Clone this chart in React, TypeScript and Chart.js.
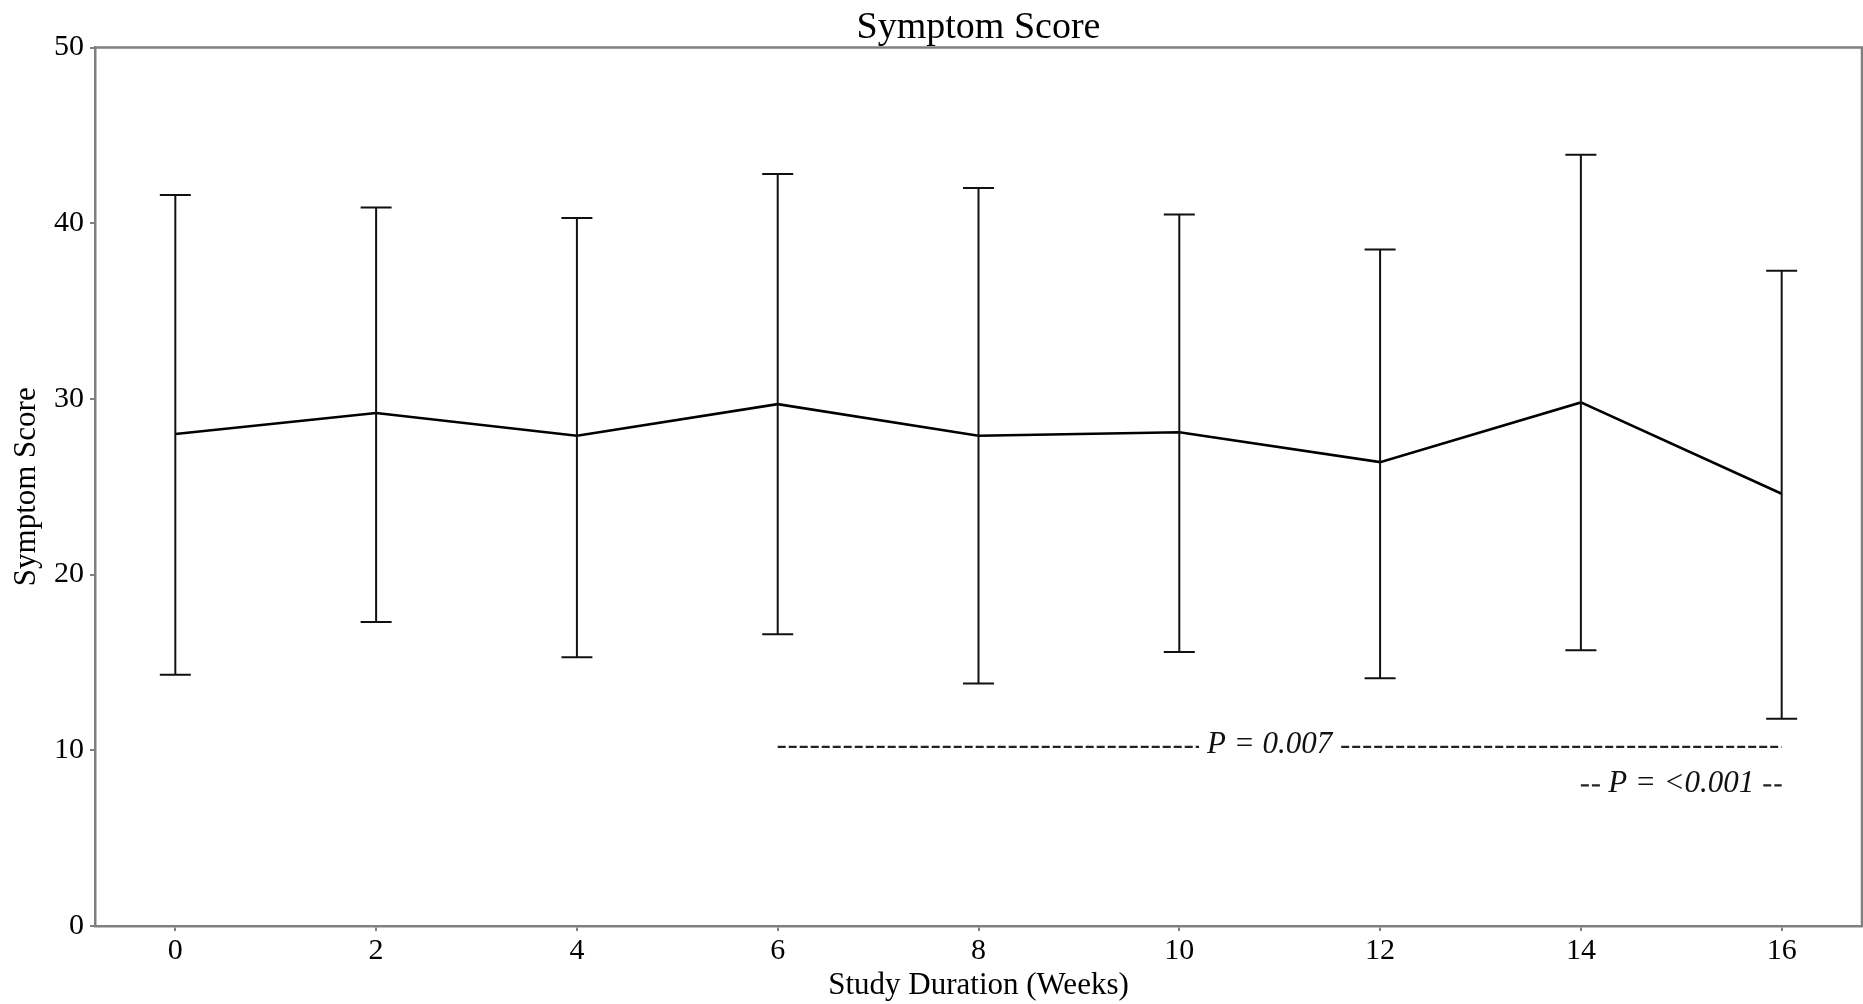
import React, { useEffect, useRef } from "react";
import { Chart, registerables } from "chart.js";

Chart.register(...registerables);

// ---- Data ----
const weeks = [0, 2, 4, 6, 8, 10, 12, 14, 16];
const meanScore = [28.0, 29.2, 27.9, 29.7, 27.9, 28.1, 26.4, 29.8, 24.6];
const upperScore = [41.6, 40.9, 40.3, 42.8, 42.0, 40.5, 38.5, 43.9, 37.3];
const lowerScore = [14.3, 17.3, 15.3, 16.6, 13.8, 15.6, 14.1, 15.7, 11.8];

const xTicks = [0, 2, 4, 6, 8, 10, 12, 14, 16];
const yTicks = [0, 10, 20, 30, 40, 50];

const chartTitle = "Symptom Score";

// P-value annotations
const pLabels = ["P = 0.007", "P = <0.001"];
const pLineFrom = [6, 14.0];
const pLineTo = [16, 16.0];
const pLineY = [10.2, 8.0];
const pTextX = [10.9, 15.0];

const FONT = "'Liberation Serif', 'Times New Roman', serif";
const SPINE = "#808080";

const errorBarPlugin = {
  id: "errorBars",
  afterDatasetsDraw(chart: any) {
    const { ctx, scales } = chart;
    const xs = scales.x;
    const ys = scales.y;
    ctx.save();
    ctx.strokeStyle = "#111";
    ctx.lineWidth = 2;
    const cap = 15.5;
    weeks.forEach((w, i) => {
      const x = xs.getPixelForValue(w);
      const yHi = ys.getPixelForValue(upperScore[i]);
      const yLo = ys.getPixelForValue(lowerScore[i]);
      ctx.beginPath();
      ctx.moveTo(x, yHi);
      ctx.lineTo(x, yLo);
      ctx.moveTo(x - cap, yHi);
      ctx.lineTo(x + cap, yHi);
      ctx.moveTo(x - cap, yLo);
      ctx.lineTo(x + cap, yLo);
      ctx.stroke();
    });
    ctx.restore();
  },
};

const framePlugin = {
  id: "frame",
  afterDraw(chart: any) {
    const { ctx, chartArea } = chart;
    ctx.save();
    ctx.strokeStyle = SPINE;
    ctx.lineWidth = 2.5;
    ctx.beginPath();
    ctx.moveTo(chartArea.left, chartArea.top);
    ctx.lineTo(chartArea.right, chartArea.top);
    ctx.lineTo(chartArea.right, chartArea.bottom);
    ctx.stroke();
    // title centred over the plot area
    ctx.fillStyle = "#000";
    ctx.font = `38px ${FONT}`;
    ctx.textAlign = "center";
    ctx.textBaseline = "alphabetic";
    ctx.fillText(chartTitle, (chartArea.left + chartArea.right) / 2, 38);
    ctx.restore();
  },
};

const pValuePlugin = {
  id: "pValues",
  afterDatasetsDraw(chart: any) {
    const { ctx, scales } = chart;
    const xs = scales.x;
    const ys = scales.y;
    ctx.save();
    ctx.font = `italic 31px ${FONT}`;
    ctx.textAlign = "center";
    ctx.textBaseline = "middle";
    pLabels.forEach((label, i) => {
      const x0 = xs.getPixelForValue(pLineFrom[i]);
      const x1 = xs.getPixelForValue(pLineTo[i]);
      const y = ys.getPixelForValue(pLineY[i]);
      const tx = xs.getPixelForValue(pTextX[i]);
      const w = ctx.measureText(label).width;
      const gapL = tx - w / 2 - 8;
      const gapR = tx + w / 2 + 9;
      ctx.strokeStyle = "#222";
      ctx.lineWidth = 2.2;
      ctx.setLineDash([8, 3]);
      ctx.beginPath();
      ctx.moveTo(x0, y);
      ctx.lineTo(gapL, y);
      ctx.moveTo(gapR, y);
      ctx.lineTo(x1, y);
      ctx.stroke();
      ctx.setLineDash([]);
      ctx.fillStyle = "#111";
      ctx.fillText(label, tx, y - 2);
    });
    ctx.restore();
  },
};

export default function App() {
  const canvasRef = useRef<HTMLCanvasElement | null>(null);

  useEffect(() => {
    if (!canvasRef.current) return;
    const chart = new Chart(canvasRef.current, {
      type: "line",
      data: {
        datasets: [
          {
            label: "Symptom Score",
            data: weeks.map((w, i) => ({ x: w, y: meanScore[i] })),
            borderColor: "#000",
            borderWidth: 2.6,
            pointRadius: 0,
            tension: 0,
            fill: false,
          },
        ],
      },
      options: {
        animation: false,
        responsive: true,
        maintainAspectRatio: false,
        layout: { padding: { left: 0, right: 1, top: 47.5, bottom: 0 } },
        plugins: {
          legend: { display: false },
          tooltip: { enabled: false },
          title: { display: false },
        },
        scales: {
          x: {
            type: "linear",
            min: -0.8,
            max: 16.8,
            afterBuildTicks: (scale: any) => {
              scale.ticks = xTicks.map((v) => ({ value: v }));
            },
            afterFit: (scale: any) => {
              scale.height = 78;
            },
            grid: {
              display: true,
              drawOnChartArea: false,
              drawTicks: true,
              tickLength: 5,
              color: SPINE,
              lineWidth: 2,
            },
            border: { display: true, color: SPINE, width: 2.5 },
            ticks: {
              color: "#000",
              font: { family: FONT, size: 30 },
              padding: 2,
              maxRotation: 0,
              autoSkip: false,
            },
            title: {
              display: true,
              text: "Study Duration (Weeks)",
              color: "#000",
              font: { family: FONT, size: 31 },
              padding: { top: 0, bottom: 0 },
            },
          },
          y: {
            type: "linear",
            min: 0,
            max: 50,
            afterBuildTicks: (scale: any) => {
              scale.ticks = yTicks.map((v) => ({ value: v }));
            },
            afterFit: (scale: any) => {
              scale.width = 95;
            },
            grid: {
              display: true,
              drawOnChartArea: false,
              drawTicks: true,
              tickLength: 5,
              color: SPINE,
              lineWidth: 2,
            },
            border: { display: true, color: SPINE, width: 2.5 },
            ticks: {
              color: "#000",
              font: { family: FONT, size: 30 },
              padding: 6,
              autoSkip: false,
            },
            title: {
              display: true,
              text: "Symptom Score",
              color: "#000",
              font: { family: FONT, size: 31 },
              padding: { top: 8, bottom: 0 },
            },
          },
        },
      },
      plugins: [errorBarPlugin, pValuePlugin, framePlugin],
    });
    return () => chart.destroy();
  }, []);

  return (
    <div
      style={{
        position: "fixed",
        left: 0,
        top: 0,
        width: "100vw",
        height: "100vh",
        background: "#fff",
      }}
    >
      <canvas ref={canvasRef} />
    </div>
  );
}
